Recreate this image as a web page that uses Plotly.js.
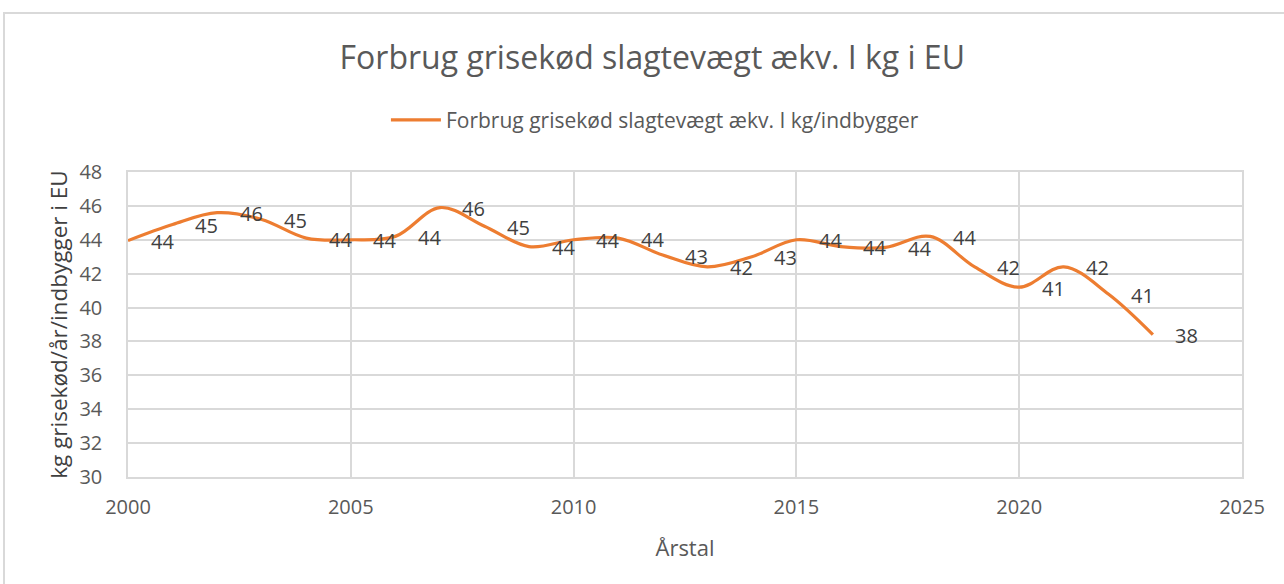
<!DOCTYPE html>
<html>
<head>
<meta charset="utf-8">
<script src="https://cdn.plot.ly/plotly-3.0.1.min.js"></script>
<style>
  html, body { margin: 0; padding: 0; background: #ffffff; }
  #wrap { position: relative; width: 1284px; height: 584px; overflow: hidden; }
  #frame { position: absolute; left: 3px; top: 12px; width: 1290px; height: 590px;
           border: 2px solid #d9d9d9; box-sizing: border-box; pointer-events: none; }
  #chart { position: absolute; left: 0; top: 0; width: 1284px; height: 584px; }
</style>
</head>
<body>
<div id="wrap">
  <div id="chart"></div>
  <div id="frame"></div>
</div>
<script>
const years = [2000, 2001, 2002, 2003, 2004, 2005, 2006, 2007, 2008, 2009, 2010, 2011,
               2012, 2013, 2014, 2015, 2016, 2017, 2018, 2019, 2020, 2021, 2022, 2023];
const consumption = [43.95, 44.9, 45.6, 45.2, 44.1, 44.0, 44.2, 45.9, 44.8, 43.6, 44.0, 44.1,
                     43.1, 42.4, 43.0, 44.0, 43.6, 43.55, 44.2, 42.4, 41.2, 42.4, 40.8, 38.4];
const seriesName = 'Forbrug grisekød slagtevægt ækv. I kg/indbygger';
const chartTitle = 'Forbrug grisekød slagtevægt ækv. I kg i EU';
const xTitle = 'Årstal';
const yTitle = 'kg grisekød/år/indbygger i EU';

const FONT = '"Open Sans", Lato, sans-serif';
const GRAY = '#595959';

const trace = {
  x: years,
  y: consumption,
  type: 'scatter',
  mode: 'lines',
  name: seriesName,
  line: { color: '#ED7D31', width: 3.2, shape: 'spline', smoothing: 1 },
  hoverinfo: 'x+y'
};

const labelAnnotations = years.map((yr, i) => ({
  x: yr, y: consumption[i], xref: 'x', yref: 'y',
  text: String(Math.round(consumption[i])),
  showarrow: false, xanchor: 'center', yanchor: 'middle',
  xshift: 34, yshift: -1,
  font: { family: FONT, size: 20, color: '#404040' }
}));

const layout = {
  width: 1284, height: 584,
  margin: { l: 128, r: 42, t: 172, b: 107 },
  paper_bgcolor: 'rgba(0,0,0,0)',
  plot_bgcolor: '#ffffff',
  font: { family: FONT, color: GRAY },
  title: {
    text: chartTitle,
    font: { family: FONT, size: 32, color: GRAY },
    x: 0.508, xanchor: 'center', xref: 'container',
    y: 1 - 58 / 584, yanchor: 'middle', yref: 'container'
  },
  showlegend: true,
  legend: {
    orientation: 'h', x: 0.473, xanchor: 'center', y: 1.17, yanchor: 'middle',
    font: { family: FONT, size: 21, color: GRAY },
    itemwidth: 50,
    bgcolor: 'rgba(0,0,0,0)'
  },
  xaxis: {
    range: [2000, 2025], tickmode: 'linear', tick0: 2000, dtick: 5,
    showgrid: true, gridcolor: '#d9d9d9', gridwidth: 1.5,
    showline: true, linecolor: '#d9d9d9', linewidth: 1.5, mirror: true,
    zeroline: false, ticks: '', ticklabelstandoff: 11,
    tickfont: { family: FONT, size: 20, color: GRAY },
    title: { text: xTitle, font: { family: FONT, size: 22, color: GRAY }, standoff: 22 }
  },
  yaxis: {
    range: [30, 48], tickmode: 'linear', tick0: 30, dtick: 2,
    showgrid: true, gridcolor: '#d9d9d9', gridwidth: 1.5,
    showline: true, linecolor: '#d9d9d9', linewidth: 1.5, mirror: true,
    zeroline: false, ticks: '', ticklabelstandoff: 20,
    tickfont: { family: FONT, size: 20, color: GRAY },
    title: { text: yTitle, font: { family: FONT, size: 22.5, color: '#404040' }, standoff: 6 }
  },
  annotations: labelAnnotations
};

Plotly.newPlot('chart', [trace], layout, { displayModeBar: false, responsive: false });
</script>
</body>
</html>
